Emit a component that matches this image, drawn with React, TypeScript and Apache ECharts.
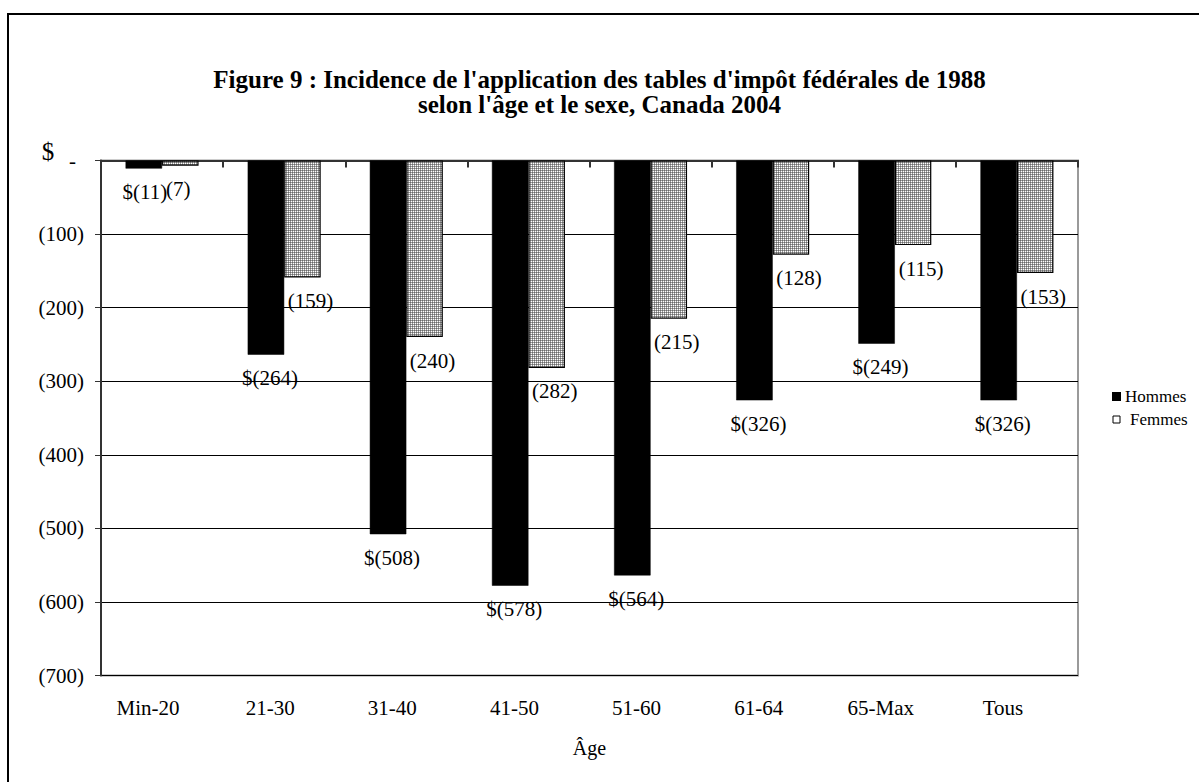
import React, { useEffect, useRef } from 'react';
import * as echarts from 'echarts';

const categories = ['Min-20', '21-30', '31-40', '41-50', '51-60', '61-64', '65-Max', 'Tous'];
const hommes = [-11, -264, -508, -578, -564, -326, -249, -326];
const femmes = [-7, -159, -240, -282, -215, -128, -115, -153];
const yMin = -700;
const yMax = 0;
const yStep = 100;
const titleLines = [
  "Figure 9 : Incidence de l'application des tables d'impôt fédérales de 1988",
  "selon l'âge et le sexe, Canada 2004",
];

// label nudges (px) as placed by hand in the original
const hommesLabelDx = [1, 4, 4, 4, 4, 4, 4, 4];
const femmesLabelDx = [-2, 8, 8, 8, 8, 8, 8, 8];

const FONT = "'Liberation Serif', 'Times New Roman', serif";

function makePattern() {
  const c = document.createElement('canvas');
  c.width = 2;
  c.height = 2;
  const ctx = c.getContext('2d')!;
  ctx.fillStyle = '#ffffff';
  ctx.fillRect(0, 0, 2, 2);
  ctx.fillStyle = '#9c9c9c';
  ctx.fillRect(0, 0, 2, 1);
  ctx.fillRect(0, 0, 1, 2);
  ctx.fillStyle = '#6a6a6a';
  ctx.fillRect(0, 0, 1, 1);
  return { image: c, repeat: 'repeat', imageWidth: 2, imageHeight: 2 } as any;
}

export default function App() {
  const ref = useRef<HTMLDivElement>(null);
  useEffect(() => {
    const chart = echarts.init(ref.current!, undefined, { renderer: 'svg' });
    const pattern = makePattern();
    const option: any = {
      animation: false,
      backgroundColor: '#ffffff',
      textStyle: { fontFamily: FONT, color: '#000' },
      title: {
        text: titleLines.join('\n'),
        left: 'center',
        top: 62,
        textStyle: {
          fontFamily: FONT,
          fontSize: 25,
          fontWeight: 'bold',
          lineHeight: 25,
          color: '#000',
        },
      },
      graphic: [
        {
          type: 'rect',
          shape: { x: 8, y: 14, width: 1220, height: 820 },
          style: { fill: 'none', stroke: '#000', lineWidth: 2 },
          silent: true,
        },
        {
          type: 'text',
          x: 48,
          y: 151,
          style: {
            text: '$',
            fontFamily: FONT,
            fontSize: 25,
            fill: '#000',
            textAlign: 'center',
            textVerticalAlign: 'middle',
          },
        },
      ],
      legend: {
        orient: 'vertical',
        left: 1107,
        top: 383,
        itemWidth: 7,
        itemHeight: 7,
        itemGap: 6,
        icon: 'rect',
        formatter: (name: string) => (name === 'Femmes' ? '{f|Femmes}' : name),
        textStyle: {
          fontFamily: FONT,
          fontSize: 17,
          color: '#000',
          rich: { f: { fontFamily: FONT, fontSize: 17, color: '#000', padding: [0, 0, 0, 5] } },
        },
        data: [
          { name: 'Hommes', itemStyle: { color: '#000' } },
          { name: 'Femmes', itemStyle: { color: '#fff', borderColor: '#000', borderWidth: 1 } },
        ],
      },
      grid: {
        left: 101,
        right: 121,
        top: 160.5,
        bottom: 106.5,
        show: true,
        borderColor: '#9a9a9a',
        borderWidth: 2,
        backgroundColor: 'transparent',
      },
      xAxis: [
        {
          type: 'category',
          data: categories,
          position: 'top',
          axisLine: { show: true, onZero: false, lineStyle: { color: '#333', width: 2 } },
          axisTick: { show: true, inside: true, length: 7, lineStyle: { color: '#333', width: 2 } },
          axisLabel: { show: false },
          splitLine: { show: false },
        },
        {
          type: 'category',
          data: categories,
          position: 'bottom',
          axisLine: { show: false, onZero: false },
          axisTick: { show: false },
          axisLabel: {
            margin: 22,
            formatter: (v: string) => '{a|' + v + '}',
            rich: { a: { fontFamily: FONT, fontSize: 21, color: '#000', padding: [0, 28, 0, 0] } },
          },
          name: 'Âge',
          nameLocation: 'middle',
          nameGap: 62,
          nameTextStyle: { fontFamily: FONT, fontSize: 20, color: '#000' },
        },
      ],
      yAxis: {
        type: 'value',
        min: yMin,
        max: yMax,
        interval: yStep,
        axisLine: { show: true, onZero: false, lineStyle: { color: '#333', width: 2 } },
        axisTick: { show: true, length: 6, lineStyle: { color: '#333', width: 1 } },
        axisLabel: {
          margin: 17,
          formatter: (v: number) => (v === 0 ? '{d|-}' : '(' + -v + ')'),
          fontFamily: FONT,
          fontSize: 21,
          color: '#000',
          rich: { d: { fontFamily: FONT, fontSize: 21, color: '#000', padding: [0, 8, 0, 0] } },
        },
        splitLine: { show: true, lineStyle: { color: '#000', width: 1 } },
      },
      series: [
        {
          name: 'Hommes',
          type: 'bar',
          xAxisIndex: 0,
          barWidth: 36.5,
          barGap: '0%',
          itemStyle: { color: '#000', borderColor: '#000', borderWidth: 0.5 },
          data: hommes.map((v, i) => ({ value: v, label: { offset: [hommesLabelDx[i], 0] } })),
          label: {
            show: true,
            position: 'bottom',
            distance: 13,
            fontFamily: FONT,
            fontSize: 21,
            color: '#000',
            formatter: (p: any) => '$(' + -p.value + ')',
          },
        },
        {
          name: 'Femmes',
          type: 'bar',
          xAxisIndex: 0,
          barWidth: 36.5,
          barGap: '0%',
          itemStyle: { color: pattern, borderColor: '#000', borderWidth: 1.2 },
          data: femmes.map((v, i) => ({ value: v, label: { offset: [femmesLabelDx[i], 0] } })),
          label: {
            show: true,
            position: 'bottom',
            distance: 13,
            fontFamily: FONT,
            fontSize: 21,
            color: '#000',
            formatter: (p: any) => '(' + -p.value + ')',
          },
        },
      ],
    };
    chart.setOption(option);
    return () => chart.dispose();
  }, []);
  return (
    <div
      ref={ref}
      style={{ position: 'fixed', left: 0, top: 0, width: 1199, height: 782, background: '#fff' }}
    />
  );
}
